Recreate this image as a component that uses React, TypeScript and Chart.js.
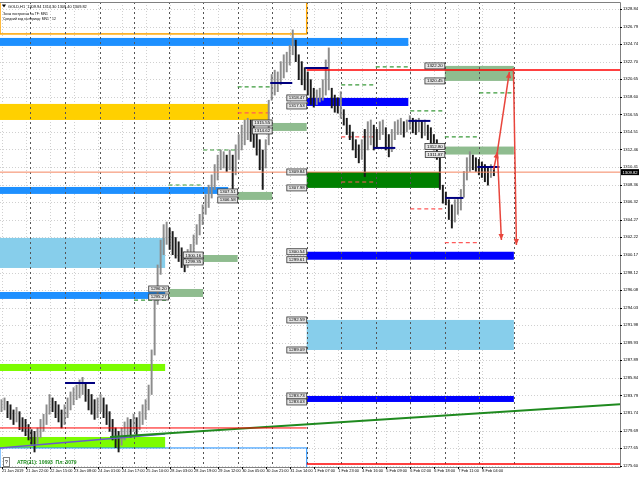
import { useEffect, useRef } from "react";
import { Chart, registerables } from "chart.js";

Chart.register(...registerables);

// ---- price axis ----
const Y_MIN = 1275.45;
const Y_MAX = 1329.65;
const Y_TICKS = [
  1328.84, 1326.79, 1324.74, 1322.7, 1320.65, 1318.6, 1316.55, 1314.51, 1312.46,
  1310.41, 1308.36, 1306.32, 1304.27, 1302.22, 1300.17, 1298.12, 1296.08, 1294.03,
  1291.98, 1289.93, 1287.89, 1285.84, 1283.79, 1281.74, 1279.69, 1277.65, 1275.6,
];

// ---- time axis (H1 bar index) ----
const X_MAX = 413;
const X_LABELS = [
  "21 Jan 2019", "21 Jan 22:00", "22 Jan 15:00", "23 Jan 08:00", "24 Jan 01:00",
  "24 Jan 17:00", "25 Jan 10:00", "28 Jan 03:00", "28 Jan 19:00", "29 Jan 12:00",
  "30 Jan 05:00", "30 Jan 21:00", "31 Jan 14:00", "1 Feb 07:00", "1 Feb 23:00",
  "4 Feb 16:00", "5 Feb 09:00", "6 Feb 02:00", "6 Feb 18:00", "7 Feb 11:00", "8 Feb 04:00",
];
const X_TICK_BARS = X_LABELS.map((_, k) => 1.3 + 16 * k);
const DAY_SEPARATORS = [
  20.3, 43.3, 66.3, 89.3, 112.3, 135.3, 158.3, 181.3, 204.3, 227.3, 250.3, 273.3,
  296.3, 319.3, 342.3,
];

// ---- GOLD H1 price bars (two hours per entry) ----
const HIGHS = [
  1283.3, 1283.5, 1283.1, 1282.7, 1282.1, 1282.4, 1281.9, 1281.2, 1281.0, 1280.4,
  1279.8, 1279.6, 1280.0, 1281.0, 1281.6, 1282.7, 1283.9, 1283.5, 1283.1, 1282.7,
  1282.1, 1282.7, 1283.5, 1284.2, 1284.7, 1285.0, 1285.6, 1285.9, 1285.3, 1284.5,
  1283.9, 1283.3, 1283.5, 1283.9, 1283.5, 1282.7, 1281.9, 1281.0, 1280.0, 1279.6,
  1280.0, 1280.7, 1281.2, 1281.0, 1281.6, 1281.2, 1281.9, 1282.7, 1283.3, 1285.0,
  1289.1, 1294.9, 1299.0, 1301.9, 1303.7, 1304.0, 1303.3, 1302.9, 1302.2, 1301.7,
  1301.0, 1300.5, 1300.8, 1301.4, 1302.5, 1303.7, 1304.9, 1306.0, 1307.2, 1308.3,
  1309.5, 1310.7, 1311.8, 1312.4, 1312.2, 1311.8, 1312.4, 1311.8, 1313.0, 1314.2,
  1315.3, 1315.9, 1316.1, 1315.9, 1315.3, 1314.8, 1313.6, 1312.4, 1313.6, 1318.2,
  1321.2, 1321.7, 1321.5, 1322.7, 1323.5, 1323.8, 1324.6, 1326.4, 1325.2, 1323.5,
  1322.7, 1322.0, 1321.5, 1320.6, 1319.6, 1319.4, 1319.6, 1320.6, 1322.9, 1324.3,
  1319.6, 1318.8, 1318.5, 1319.2, 1317.1, 1316.1, 1315.3, 1314.5, 1313.6, 1313.0,
  1313.6, 1314.8, 1315.7, 1315.9, 1315.3, 1314.8, 1315.7, 1315.9, 1315.0, 1314.2,
  1314.8, 1315.7, 1315.9, 1316.1, 1315.7, 1315.9, 1316.4, 1316.1, 1315.9, 1316.1,
  1315.7, 1315.9, 1315.3, 1315.0, 1314.2, 1313.6, 1311.8, 1308.3, 1307.5, 1306.6,
  1306.0, 1306.6, 1306.8, 1307.8, 1309.9, 1311.5, 1312.2, 1311.8, 1311.5, 1311.3,
  1311.0, 1310.7, 1310.3, 1310.7, 1310.3,
];
const LOWS = [
  1281.9, 1282.1, 1281.2, 1281.0, 1280.4, 1280.7, 1279.8, 1279.6, 1279.1, 1278.6,
  1278.1, 1277.2, 1278.2, 1278.9, 1279.6, 1280.4, 1281.6, 1281.9, 1281.2, 1280.7,
  1280.0, 1280.4, 1281.2, 1282.1, 1282.7, 1283.3, 1283.5, 1283.9, 1283.1, 1282.1,
  1281.6, 1281.0, 1281.2, 1281.9, 1281.2, 1280.4, 1279.6, 1278.6, 1277.7, 1277.2,
  1278.0, 1278.6, 1279.1, 1278.9, 1279.6, 1279.1, 1279.8, 1280.4, 1281.0, 1282.1,
  1283.9, 1288.5, 1294.4, 1297.9, 1300.2, 1301.4, 1300.8, 1300.2, 1299.8, 1299.4,
  1298.7, 1298.2, 1298.7, 1299.4, 1300.2, 1301.4, 1302.5, 1303.7, 1304.9, 1305.7,
  1306.8, 1307.8, 1308.9, 1310.1, 1310.3, 1309.9, 1310.1, 1307.8, 1309.5, 1311.3,
  1312.4, 1313.0, 1313.6, 1313.4, 1312.7, 1311.8, 1310.1, 1307.8, 1310.3, 1313.0,
  1318.2, 1318.8, 1319.2, 1320.0, 1320.8, 1321.5, 1322.3, 1323.5, 1322.7, 1320.6,
  1320.0, 1319.4, 1318.8, 1317.7, 1317.4, 1317.7, 1318.0, 1318.2, 1318.8, 1319.4,
  1317.3, 1316.8, 1316.7, 1316.1, 1315.3, 1314.2, 1313.6, 1312.4, 1311.5, 1310.9,
  1311.3, 1309.3, 1312.4, 1313.0, 1312.4, 1312.7, 1313.6, 1314.2, 1312.4, 1311.6,
  1312.2, 1313.6, 1314.2, 1314.2, 1313.9, 1314.5, 1314.8, 1314.4, 1314.2, 1314.5,
  1313.8, 1314.1, 1313.6, 1313.0, 1312.4, 1311.3, 1307.8, 1306.2, 1306.0, 1304.3,
  1303.3, 1304.0, 1304.9, 1305.4, 1306.9, 1308.9, 1309.9, 1310.1, 1309.9, 1309.5,
  1309.2, 1308.7, 1308.3, 1309.2, 1309.4,
];
const BAR_X = HIGHS.map((_, i) => 2 * i + 1);

const LAST_OPEN = 1309.94;
const BID = 1309.82;

// ---- zones: [fromBar, toBar, upperPrice, lowerPrice] ----
const ZONE_ORANGE_FRAME = [0, 204.3, 1330.4, 1325.93];
const ZONE_DODGER_TOP = [0, 272, 1325.46, 1324.53];
const ZONE_GOLD = [0, 178.7, 1317.77, 1315.9];
const ZONE_DODGER_MID = [0, 152, 1308.09, 1307.28];
const ZONE_DODGER_LOW = [0, 110, 1295.85, 1295.04];
const ZONE_SKY_LEFT = [0, 110, 1302.15, 1298.65];
const ZONE_LIME_MID = [0, 110, 1287.46, 1286.64];
const ZONE_LIME_LOW = [0, 110, 1278.95, 1277.67];
const ZONE_BLUE_FRAME = [0, 204.3, 1277.67, 1274.9];
const ZONE_SKY_RIGHT = [204.3, 342.3, 1292.59, 1289.09];
const ZONE_BLUE_A = [204.3, 272, 1318.47, 1317.53];
const ZONE_BLUE_B = [204.3, 342.3, 1300.54, 1299.61];
const ZONE_BLUE_C = [204.3, 342.3, 1283.73, 1283.03];
const ZONE_DARKGREEN = [204.3, 293.3, 1309.84, 1307.98];
const ZONE_SAGE_A = [296.3, 342.3, 1322.2, 1320.45];
const ZONE_SAGE_B = [296.3, 342.3, 1312.8, 1311.87];
const ZONE_SAGE_C = [181.3, 204.3, 1315.55, 1314.62];
const ZONE_SAGE_D = [158.3, 181.3, 1307.51, 1306.58];
const ZONE_SAGE_E = [135.3, 158.3, 1300.16, 1299.35];
const ZONE_SAGE_F = [112.3, 135.3, 1296.2, 1295.27];

// ---- horizontal levels: [fromBar, toBar, price] ----
const RED_LEVELS = [
  [204.3, 413, 1321.73],
  [204.3, 413, 1275.8],
  [0, 204.3, 1280.0],
];
const GREEN_DASHES = [
  [89.3, 112.3, 1294.91],
  [112.3, 135.3, 1308.32],
  [135.3, 158.3, 1312.4],
  [158.3, 181.3, 1319.75],
  [227.3, 250.3, 1319.98],
  [250.3, 273.3, 1322.08],
  [273.3, 296.3, 1316.95],
  [296.3, 319.3, 1313.92],
  [319.3, 342.3, 1319.05],
];
const RED_DASHES = [
  [158.3, 181.3, 1316.72],
  [227.3, 250.3, 1313.92],
  [227.3, 250.3, 1308.67],
  [273.3, 296.3, 1305.53],
  [296.3, 319.3, 1301.61],
];
const PIVOT_MARKS = [
  [43.3, 63.3, 1285.24],
  [180, 194.7, 1320.21],
  [203.3, 218.7, 1321.96],
  [248.7, 263.3, 1312.64],
  [272, 286.7, 1315.79],
  [296.7, 308.7, 1306.81],
  [318, 332.7, 1310.42],
];
// ---- trend lines: [bar1, price1, bar2, price2] ----
const TREND_GREEN = [73.3, 1278.95, 426.7, 1282.91];
const TREND_SLATE = [0, 1277.67, 110, 1279.3];
// ---- forecast arrows: [fromBar, fromPrice, toBar, toPrice] ----
const ARROWS = [
  [328.7, 1310.07, 331.3, 1312.17],
  [331.3, 1312.17, 334, 1301.91],
  [331.3, 1312.17, 339.3, 1321.5],
  [342, 1321.96, 344, 1301.33],
];

const FONT = "'Liberation Sans', Arial, sans-serif";

type Z = number[];

const overlay = {
  id: "overlay",
  beforeDraw(chart: any) {
    const { ctx } = chart;
    ctx.save();
    ctx.fillStyle = "#ffffff";
    ctx.fillRect(0, 0, chart.width, chart.height);
    ctx.restore();
  },
  beforeDatasetsDraw(chart: any) {
    const { ctx, chartArea: a, scales } = chart;
    const X = (v: number) => scales.x.getPixelForValue(v);
    const Y = (v: number) => scales.y.getPixelForValue(v);
    ctx.save();
    ctx.beginPath();
    ctx.rect(a.left, a.top, a.right - a.left, a.bottom - a.top);
    ctx.clip();

    // light dotted grid
    ctx.strokeStyle = "#d0d0d0";
    ctx.lineWidth = 1;
    ctx.setLineDash([1, 2]);
    Y_TICKS.forEach((v) => {
      const y = Math.round(Y(v)) + 0.5;
      ctx.beginPath();
      ctx.moveTo(a.left, y);
      ctx.lineTo(a.right, y);
      ctx.stroke();
    });
    X_TICK_BARS.forEach((v) => {
      const x = Math.round(X(v)) + 0.5;
      ctx.beginPath();
      ctx.moveTo(x, a.top);
      ctx.lineTo(x, a.bottom);
      ctx.stroke();
    });
    ctx.setLineDash([]);

    const fill = (z: Z, color: string) => {
      const x0 = X(z[0]), x1 = X(z[1]), y0 = Y(z[2]), y1 = Y(z[3]);
      ctx.fillStyle = color;
      ctx.fillRect(x0, y0, x1 - x0, y1 - y0);
    };
    const frame = (z: Z, color: string, w: number) => {
      const x0 = X(z[0]), x1 = X(z[1]), y0 = Y(z[2]), y1 = Y(z[3]);
      ctx.strokeStyle = color;
      ctx.lineWidth = w;
      ctx.strokeRect(x0, y0, x1 - x0, y1 - y0);
    };

    fill(ZONE_SKY_LEFT, "#87ceeb");
    fill(ZONE_SKY_RIGHT, "#87ceeb");
    fill(ZONE_GOLD, "#ffd000");
    fill(ZONE_DODGER_TOP, "#1e90ff");
    fill(ZONE_DODGER_MID, "#1e90ff");
    fill(ZONE_DODGER_LOW, "#1e90ff");
    fill(ZONE_LIME_MID, "#7cfc00");
    fill(ZONE_LIME_LOW, "#7cfc00");
    fill(ZONE_DARKGREEN, "#008000");
    fill(ZONE_BLUE_A, "#0000ff");
    fill(ZONE_BLUE_B, "#0000ff");
    fill(ZONE_BLUE_C, "#0000ff");
    [ZONE_SAGE_A, ZONE_SAGE_B, ZONE_SAGE_C, ZONE_SAGE_D, ZONE_SAGE_E, ZONE_SAGE_F].forEach((z) =>
      fill(z, "#8fbc8f")
    );
    frame(ZONE_ORANGE_FRAME, "#ffa500", 1.5);
    frame(ZONE_BLUE_FRAME, "#1e90ff", 1);

    // day separators
    ctx.strokeStyle = "#555555";
    ctx.lineWidth = 1;
    ctx.setLineDash([2, 3]);
    DAY_SEPARATORS.forEach((v) => {
      const x = Math.round(X(v)) + 0.5;
      ctx.beginPath();
      ctx.moveTo(x, a.top);
      ctx.lineTo(x, a.bottom);
      ctx.stroke();
    });

    // daily projection dashes
    ctx.setLineDash([4, 3]);
    ctx.lineWidth = 1.2;
    ctx.strokeStyle = "#3a9a3a";
    GREEN_DASHES.forEach((s) => {
      const y = Y(s[2]);
      ctx.beginPath();
      ctx.moveTo(X(s[0]), y);
      ctx.lineTo(X(s[1]), y);
      ctx.stroke();
    });
    ctx.strokeStyle = "#ff5a5a";
    RED_DASHES.forEach((s) => {
      const y = Y(s[2]);
      ctx.beginPath();
      ctx.moveTo(X(s[0]), y);
      ctx.lineTo(X(s[1]), y);
      ctx.stroke();
    });
    ctx.setLineDash([]);
    ctx.restore();
  },

  afterDatasetsDraw(chart: any) {
    const { ctx, chartArea: a, scales } = chart;
    const X = (v: number) => scales.x.getPixelForValue(v);
    const Y = (v: number) => scales.y.getPixelForValue(v);
    ctx.save();
    ctx.beginPath();
    ctx.rect(a.left, a.top, a.right - a.left, a.bottom - a.top);
    ctx.clip();

    const seg = (x0: number, p0: number, x1: number, p1: number, color: string, w: number) => {
      ctx.strokeStyle = color;
      ctx.lineWidth = w;
      ctx.beginPath();
      ctx.moveTo(X(x0), Y(p0));
      ctx.lineTo(X(x1), Y(p1));
      ctx.stroke();
    };

    // trend lines
    seg(TREND_SLATE[0], TREND_SLATE[1], TREND_SLATE[2], TREND_SLATE[3], "#6a5acd", 1.5);
    seg(TREND_GREEN[0], TREND_GREEN[1], TREND_GREEN[2], TREND_GREEN[3], "#1f8a1f", 2);

    // support / resistance levels
    RED_LEVELS.forEach((l, i) => seg(l[0], l[2], l[1], l[2], "#ff0000", i === 2 ? 1 : 1.5));
    PIVOT_MARKS.forEach((l) => seg(l[0], l[2], l[1], l[2], "#00007f", 2));

    // bid line
    seg(0, BID, X_MAX, BID, "#f4845f", 1);

    // zone edge price tags
    ctx.font = `4.4px ${FONT}`;
    ctx.textBaseline = "middle";
    const tag = (bar: number, price: number) => {
      const text = price.toFixed(2);
      const w = ctx.measureText(text).width + 4;
      const h = 6;
      const xr = X(bar);
      const yc = Y(price);
      ctx.fillStyle = "#e6e6e6";
      ctx.fillRect(xr - w, yc - h / 2, w, h);
      ctx.strokeStyle = "#333333";
      ctx.lineWidth = 0.8;
      ctx.strokeRect(xr - w, yc - h / 2, w, h);
      ctx.fillStyle = "#000000";
      ctx.textAlign = "left";
      ctx.fillText(text, xr - w + 2, yc + 0.3);
    };
    [
      ZONE_BLUE_A, ZONE_DARKGREEN, ZONE_BLUE_B, ZONE_SKY_RIGHT, ZONE_BLUE_C,
      ZONE_SAGE_A, ZONE_SAGE_B, ZONE_SAGE_C, ZONE_SAGE_D, ZONE_SAGE_E, ZONE_SAGE_F,
    ].forEach((z) => {
      tag(z[0], z[2]);
      tag(z[0], z[3]);
    });

    // forecast arrows
    ctx.strokeStyle = "#e8453c";
    ctx.fillStyle = "#e8453c";
    ARROWS.forEach((r) => {
      const x0 = X(r[0]), y0 = Y(r[1]), x1 = X(r[2]), y1 = Y(r[3]);
      ctx.lineWidth = 1.5;
      ctx.beginPath();
      ctx.moveTo(x0, y0);
      ctx.lineTo(x1, y1);
      ctx.stroke();
      const ang = Math.atan2(y1 - y0, x1 - x0);
      const L = 6, W = 2.6;
      ctx.beginPath();
      ctx.moveTo(x1, y1);
      ctx.lineTo(x1 - L * Math.cos(ang) + W * Math.sin(ang), y1 - L * Math.sin(ang) - W * Math.cos(ang));
      ctx.lineTo(x1 - L * Math.cos(ang) - W * Math.sin(ang), y1 - L * Math.sin(ang) + W * Math.cos(ang));
      ctx.closePath();
      ctx.fill();
    });
    ctx.restore();

    // chart frame and tick marks
    ctx.save();
    ctx.strokeStyle = "#808080";
    ctx.lineWidth = 1;
    ctx.beginPath();
    ctx.moveTo(a.left, Math.round(a.top) + 0.5);
    ctx.lineTo(Math.round(a.right) + 0.5, Math.round(a.top) + 0.5);
    ctx.lineTo(Math.round(a.right) + 0.5, Math.round(a.bottom) + 0.5);
    ctx.lineTo(a.left, Math.round(a.bottom) + 0.5);
    ctx.stroke();
    ctx.strokeStyle = "#000000";
    Y_TICKS.forEach((v) => {
      const y = Math.round(Y(v)) + 0.5;
      ctx.beginPath();
      ctx.moveTo(a.right, y);
      ctx.lineTo(a.right + 2, y);
      ctx.stroke();
    });
    X_TICK_BARS.forEach((v) => {
      const x = Math.round(X(v)) + 0.5;
      ctx.beginPath();
      ctx.moveTo(x, a.bottom);
      ctx.lineTo(x, a.bottom + 2);
      ctx.stroke();
    });

    // current price tag on the price axis
    const yb = Y(BID);
    ctx.fillStyle = "#000000";
    ctx.fillRect(a.right + 1, yb - 3, 18, 6);
    ctx.fillStyle = "#ffffff";
    ctx.font = `4.2px ${FONT}`;
    ctx.textAlign = "left";
    ctx.textBaseline = "middle";
    ctx.fillText(BID.toFixed(2), a.right + 2.5, yb + 0.3);

    // header
    ctx.fillStyle = "#000000";
    ctx.beginPath();
    ctx.moveTo(a.left + 2, 4.5);
    ctx.lineTo(a.left + 6, 4.5);
    ctx.lineTo(a.left + 4, 7.5);
    ctx.closePath();
    ctx.fill();
    const last = HIGHS.length - 1;
    ctx.font = `3.9px ${FONT}`;
    ctx.fillText(
      `GOLD,H1  ${LAST_OPEN.toFixed(2)} ${HIGHS[last].toFixed(2)} ${LOWS[last].toFixed(2)} ${BID.toFixed(2)}`,
      a.left + 8,
      6.5
    );
    ctx.font = `3.4px ${FONT}`;
    ctx.fillText("Зоны построены на TF: MN1", a.left + 3, 13.8);
    ctx.fillText("Средний ход за период: MN1 * 12", a.left + 3, 19.5);

    // indicator info line
    ctx.strokeStyle = "#808080";
    ctx.fillStyle = "#ffffff";
    ctx.fillRect(a.left + 3, 457.5, 6, 9);
    ctx.strokeRect(a.left + 3.5, 457.5, 6, 9);
    ctx.fillStyle = "#000000";
    ctx.font = `5px ${FONT}`;
    ctx.fillText("?", a.left + 5, 462.5);
    ctx.fillStyle = "#1e8c1e";
    ctx.font = `bold 5px ${FONT}`;
    ctx.fillText("ATR(21): 10693  Пл: 3079", a.left + 17, 462.5);
    ctx.restore();
  },
};

export default function App() {
  const ref = useRef<HTMLCanvasElement | null>(null);

  useEffect(() => {
    const canvas = ref.current;
    if (!canvas) return;
    const mids = HIGHS.map((h, i) => (h + LOWS[i]) / 2);
    const colors = mids.map((m, i) => (i > 0 && m < mids[i - 1] ? "#1a1a1a" : "#8c8c8c"));

    const chart = new Chart(canvas, {
      type: "bar",
      data: {
        datasets: [
          {
            data: BAR_X.map((x, i) => ({ x, y: [LOWS[i], HIGHS[i]] })) as any,
            backgroundColor: colors,
            borderWidth: 0,
            barThickness: 1.3,
            grouped: false,
          } as any,
        ],
      },
      options: {
        responsive: false,
        maintainAspectRatio: false,
        animation: false,
        layout: { padding: { top: 2, left: 0, right: 0, bottom: 0 } },
        plugins: { legend: { display: false }, tooltip: { enabled: false } },
        scales: {
          x: {
            type: "linear",
            min: 0,
            max: X_MAX,
            offset: false,
            grid: { display: false, drawTicks: false },
            border: { display: false },
            afterBuildTicks: (s: any) => {
              s.ticks = X_TICK_BARS.map((v) => ({ value: v }));
            },
            afterFit: (s: any) => {
              s.height = 13;
              s.paddingLeft = 0;
              s.paddingRight = 0;
            },
            ticks: {
              autoSkip: false,
              maxRotation: 0,
              minRotation: 0,
              align: "start",
              padding: 2,
              color: "#000000",
              font: { size: 3.9, family: FONT },
              callback: (_v: any, i: number) => X_LABELS[i],
            },
          },
          y: {
            position: "right",
            min: Y_MIN,
            max: Y_MAX,
            grid: { display: false, drawTicks: false },
            border: { display: false },
            afterBuildTicks: (s: any) => {
              s.ticks = Y_TICKS.map((v) => ({ value: v }));
            },
            afterFit: (s: any) => {
              s.width = 20;
              s.paddingTop = 0;
              s.paddingBottom = 0;
            },
            ticks: {
              autoSkip: false,
              padding: 3,
              color: "#000000",
              font: { size: 4.2, family: FONT },
              callback: (v: any) => Number(v).toFixed(2),
            },
          },
        },
      } as any,
      plugins: [overlay],
    });
    return () => chart.destroy();
  }, []);

  return (
    <div style={{ position: "fixed", left: 0, top: 0, width: 640, height: 480, background: "#ffffff" }}>
      <canvas ref={ref} width={640} height={480} style={{ display: "block" }} />
    </div>
  );
}
